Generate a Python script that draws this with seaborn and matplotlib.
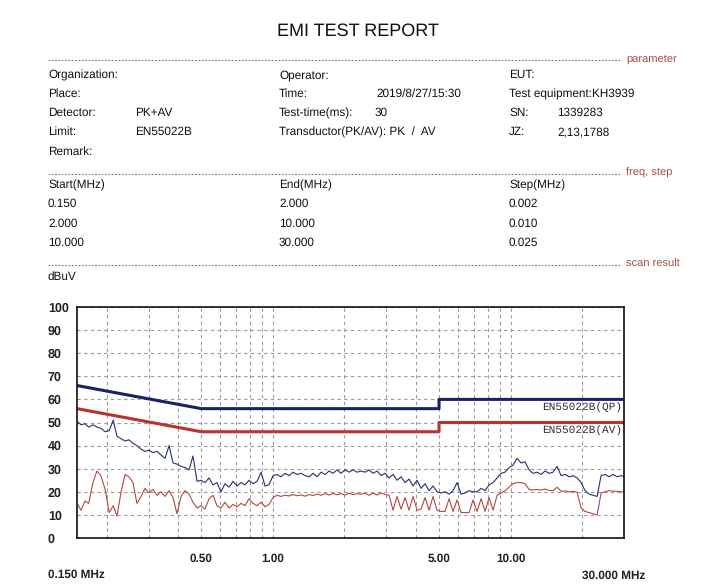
import matplotlib
matplotlib.use('Agg')
import matplotlib.pyplot as plt
from matplotlib.lines import Line2D
import seaborn as sns
import pandas as pd

# scan frequencies (MHz)
freq = [0.150, 0.156, 0.162, 0.168, 0.175, 0.182, 0.189, 0.197, 0.205, 0.213,
        0.221, 0.230, 0.239, 0.248, 0.258, 0.268, 0.279, 0.290, 0.301, 0.313,
        0.326, 0.338, 0.352, 0.366, 0.380, 0.395, 0.411, 0.427, 0.444, 0.461,
        0.480, 0.498, 0.518, 0.539, 0.560, 0.582, 0.605, 0.629, 0.654, 0.680,
        0.707, 0.735, 0.764, 0.794, 0.825, 0.858, 0.892, 0.927, 0.963, 1.002,
        1.041, 1.082, 1.125, 1.170, 1.216, 1.264, 1.314, 1.366, 1.420, 1.476,
        1.534, 1.595, 1.658, 1.723, 1.791, 1.862, 1.936, 2.012, 2.092, 2.174,
        2.260, 2.350, 2.443, 2.539, 2.639, 2.744, 2.852, 2.965, 3.082, 3.204,
        3.330, 3.462, 3.598, 3.741, 3.888, 4.042, 4.202, 4.368, 4.541, 4.720,
        4.907, 5.101, 5.302, 5.512, 5.730, 5.956, 6.192, 6.436, 6.691, 6.955,
        7.228, 7.513, 7.810, 8.121, 8.441, 8.775, 9.120, 9.480, 9.854, 10.24,
        10.65, 11.07, 11.51, 11.96, 12.43, 12.92, 13.44, 13.97, 14.52, 15.09,
        15.69, 16.31, 16.95, 17.63, 18.32, 19.04, 19.80, 20.58, 21.39, 22.24,
        23.12, 24.03, 24.98, 25.97, 26.99, 28.06, 29.17, 30.00]

# peak trace (dBuV)
pk = [50.5, 49, 49.5, 48, 49, 48, 47.5, 46, 46.5, 51,
      44, 43, 42, 42.5, 41, 40, 38.5, 37.5, 38, 37,
      37.5, 36, 34.5, 40, 32.5, 32, 31, 30.5, 29.5, 35.5,
      24.5, 25, 24, 26, 23, 24, 20, 23.5, 22, 24.5,
      22.5, 24, 23, 25, 23.5, 24.5, 28.5, 22.5, 23, 27,
      27.5, 26.5, 28, 27, 28.5, 27.5, 28, 27, 26.5, 28,
      26.5, 28.5, 27.5, 29, 28, 29.5, 28, 29.5, 28.5, 29.5,
      28.5, 29, 28.5, 29.5, 28, 29, 27, 28, 26, 27.5,
      25, 26.5, 24, 25.5, 22.5, 25, 21.5, 23.5, 20.5, 22.5,
      20, 19.5, 20, 19, 20.5, 24, 19, 19.5, 20.5, 20,
      20, 21.5, 20.5, 23, 24, 26, 28, 28.5, 30.5, 31.5,
      34.5, 32.5, 33, 29.5, 28, 28.5, 27.5, 29, 28, 28.5,
      31, 27, 27.5, 26.5, 27, 26, 24, 20.5, 19, 18.5,
      18, 27, 27.5, 26.5, 27.5, 26.5, 27, 26.5]

# average trace (dBuV)
av = [15, 12, 16, 15, 24, 29, 27, 21, 11, 14,
      9.5, 20, 27.5, 26.5, 24, 15, 18, 21.5, 19.5, 21,
      18.5, 20, 18, 20.5, 17.5, 10.5, 18, 20.5, 19, 15.5,
      13, 14, 12.5, 17, 18.5, 14, 13, 15.5, 13, 14.5,
      13.5, 15, 14, 17, 15, 14, 15.5, 13.5, 14.5, 17.5,
      18.5, 18, 18.5, 18.2, 18.8, 18.3, 18.6, 18.1, 18.8, 18.4,
      19, 18.5, 19.2, 18.6, 19.3, 18.7, 19.2, 18.6, 19.4, 18.8,
      19.2, 19, 19.3, 18.5, 19.4, 18.6, 19.5, 18.8, 18.5, 12,
      18, 12.5, 17.5, 12, 18, 12, 12.5, 17.5, 12, 18,
      12, 11.5, 11.5, 17, 11.5, 16.5, 11, 11, 11, 16.5,
      11.5, 17, 11.5, 17.5, 12, 18.5, 19.5, 20.5, 22, 23.5,
      24, 24, 23.5, 21, 20.8, 21, 20.8, 21.2, 20.6, 20.5,
      22, 20.2, 20.4, 20, 20.2, 19.8, 13, 11.5, 11, 10.5,
      10, 19.5, 20, 20.5, 20.3, 20.2, 20, 19.8]

# EN55022B class B limits
lim_freq = [0.15, 0.5, 5.0, 5.0, 30.0]
lim_qp = [66, 56, 56, 60, 60]
lim_av = [56, 46, 46, 50, 50]

grid_freq = [0.2, 0.3, 0.4, 0.5, 0.6, 0.7, 0.8, 0.9, 1, 2, 3, 4, 5, 6, 7, 8, 9, 10, 20]
xlabels = {0.5: '0.50', 1: '1.00', 5: '5.00', 10: '10.00'}

params = [
    (48, 75, 'Organization:'), (279, 75, 'Operator:'), (509, 75, 'EUT:'),
    (48, 94, 'Place:'), (279, 94, 'Time:'), (376, 94, '2019/8/27/15:30'),
    (509, 94, 'Test equipment:KH3939'),
    (48, 113, 'Detector:'), (135, 113, 'PK+AV'), (279, 113, 'Test-time(ms):'),
    (375, 113, '30'), (509, 113, 'SN:'), (557, 113, '1339283'),
    (48, 132, 'Limit:'), (135, 132, 'EN55022B'), (279, 132, 'Transductor(PK/AV): PK  /  AV'),
    (509, 132, 'JZ:'), (557, 132, '2,13,1788'),
    (48, 152, 'Remark:'),
]
steps = [
    (48, 185, 'Start(MHz)'), (279, 185, 'End(MHz)'), (509, 185, 'Step(MHz)'),
    (48, 204, '0.150'), (279, 204, '2.000'), (509, 204, '0.002'),
    (48, 224, '2.000'), (279, 224, '10.000'), (509, 224, '0.010'),
    (48, 243, '10.000'), (279, 243, '30.000'), (509, 243, '0.025'),
]
sections = [(60, 'parameter'), (174, 'freq, step'), (265, 'scan result')]

sns.set_style('white')
plt.rcParams['font.family'] = ['Liberation Sans', 'DejaVu Sans']
plt.rcParams['text.hinting'] = 'no_hinting'

W, H = 720, 586
fig = plt.figure(figsize=(W / 100, H / 100), dpi=100)

def fx(px):
    return px / W

def fy(py):
    return 1 - py / H

txt = '#111111'
fig.text(fx(358), fy(31), 'EMI TEST REPORT', ha='center', va='center', fontsize=13, color=txt)

for py, name in sections:
    fig.add_artist(Line2D([fx(48), fx(620)], [fy(py), fy(py)], color='#777777',
                          lw=0.8, ls=(0, (1.5, 1.5))))
    fig.text(fx(626), fy(py - 1), name, ha='left', va='center', fontsize=8, color='#a84a4a')

for px, py, s in params + steps:
    fig.text(fx(px), fy(py), s, ha='left', va='center', fontsize=8.5, color=txt)

fig.text(fx(48), fy(277), 'dBuV', ha='left', va='center', fontsize=8.5, color=txt)

# plot area
ax = fig.add_axes([fx(77), fy(538), fx(624) - fx(77), fy(307) - fy(538)])

df = pd.DataFrame({'freq': freq, 'pk': pk, 'av': av})
lim = pd.DataFrame({'freq': lim_freq, 'qp': lim_qp, 'av': lim_av})

sns.lineplot(data=lim, x='freq', y='qp', estimator=None, color='#1b2166', lw=2.2, ax=ax)
sns.lineplot(data=lim, x='freq', y='av', estimator=None, color='#b8322e', lw=2.2, ax=ax)
sns.lineplot(data=df, x='freq', y='pk', estimator=None, color='#26307a', lw=0.8, ax=ax)
sns.lineplot(data=df, x='freq', y='av', estimator=None, color='#b5473f', lw=0.8, ax=ax)

ax.set_xscale('log')
ax.set_xlim(0.15, 30)
ax.set_ylim(0, 100)
ax.set_xlabel('')
ax.set_ylabel('')

ax.set_xticks(grid_freq)
ax.set_xticklabels([xlabels.get(f, '') for f in grid_freq])
ax.xaxis.set_minor_locator(matplotlib.ticker.NullLocator())
ax.set_yticks(range(0, 101, 10))
ax.grid(True, color='#9a9a9a', lw=0.8, ls=(0, (3, 3)))
ax.tick_params(axis='x', length=0, pad=11, labelsize=8.5, labelcolor='#222222')
ax.tick_params(axis='y', length=0, pad=21, labelsize=9, labelcolor='#222222')
for t in ax.get_xticklabels() + ax.get_yticklabels():
    t.set_fontweight('bold')
for t in ax.get_yticklabels():
    t.set_horizontalalignment('left')

for sp in ax.spines.values():
    sp.set_visible(True)
    sp.set_color('#111111')
    sp.set_linewidth(1.2)

# limit names just under the lines, right edge
ax.text(29.5, 58.6, 'EN55022B(QP)', ha='right', va='top', fontsize=8,
        family='Liberation Mono', color='#333333')
ax.text(29.5, 48.6, 'EN55022B(AV)', ha='right', va='top', fontsize=8,
        family='Liberation Mono', color='#333333')

fig.text(fx(48), fy(575), '0.150 MHz', ha='left', va='center', fontsize=8.5,
         fontweight='bold', color='#222222')
fig.text(fx(645), fy(576), '30.000 MHz', ha='right', va='center', fontsize=8.5,
         fontweight='bold', color='#222222')

fig.savefig('out.png', dpi=100, facecolor='white')
